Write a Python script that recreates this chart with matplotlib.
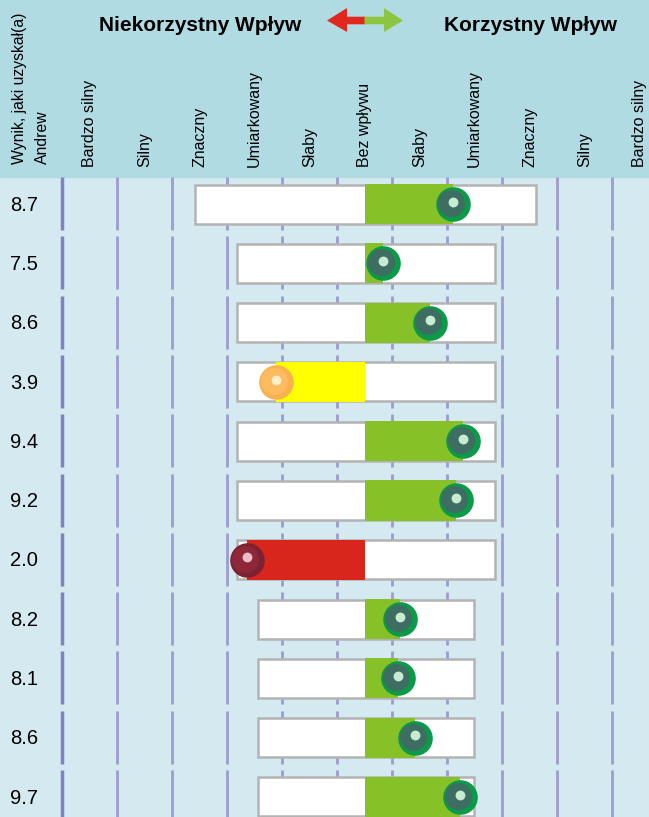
import matplotlib.pyplot as plt
import numpy as np
from matplotlib.patches import Rectangle, Polygon

plt.rcParams["font.family"] = ["Liberation Sans", "DejaVu Sans"]

# Daten
scores = ["8.7", "7.5", "8.6", "3.9", "9.4", "9.2", "2.0", "8.2", "8.1", "8.6", "9.7"]
impact = [1.60, 0.34, 1.19, -1.61, 1.79, 1.66, -2.14, 0.64, 0.60, 0.91, 1.73]
range_lo = [-3.09, -2.32, -2.32, -2.32, -2.32, -2.32, -2.32, -1.94, -1.94, -1.94, -1.94]
range_hi = [3.12, 2.36, 2.36, 2.36, 2.36, 2.36, 2.36, 1.99, 1.99, 1.99, 1.99]
fill_col = ["green", "green", "green", "yellow", "green", "green", "red",
            "green", "green", "green", "green"]
col_labels = ["Bardzo silny", "Silny", "Znaczny", "Umiarkowany", "Słaby", "Bez wpływu",
              "Słaby", "Umiarkowany", "Znaczny", "Silny", "Bardzo silny"]
col_pos = np.arange(-5, 6)

fills = {"green": "#86c128", "yellow": "#ffff00", "red": "#d9261c"}
balls = {"green": ("#0a9a48", "#3e6e62", "#c8ecd2"),
         "yellow": ("#f9b24e", "#fdbb60", "#fff0c8"),
         "red": ("#7c2232", "#8e2838", "#eebcc6")}

W, H = 649, 817
fig = plt.figure(figsize=(W / 100, H / 100), dpi=100)

# Hintergrund + Kopf in Pixelkoordinaten
bg = fig.add_axes([0, 0, 1, 1], zorder=0)
bg.set_xlim(0, W)
bg.set_ylim(H, 0)
bg.axis("off")
bg.add_patch(Rectangle((0, 0), W, H, color="#d5eaf0"))
bg.add_patch(Rectangle((0, 0), W, 176.5, color="#b0dbe3"))

bg.text(200, 25, "Niekorzystny Wpływ", fontsize=15, fontweight="bold", ha="center", va="center")
bg.text(530, 25, "Korzystny Wpływ", fontsize=15, fontweight="bold", ha="center", va="center")
# Doppelpfeil
bg.add_patch(Polygon([(327, 20.5), (347, 8), (347, 16.7), (365, 16.7), (365, 24.3),
                      (347, 24.3), (347, 32)], closed=True, color="#e0281e", lw=0))
bg.add_patch(Polygon([(403, 20.5), (384, 8), (384, 16.7), (364.5, 16.7), (364.5, 24.3),
                      (384, 24.3), (384, 32)], closed=True, color="#8cc63f", lw=0))

bg.text(20, 164, "Wynik, jaki uzyskał(a)", rotation=90, fontsize=11.3, ha="center", va="bottom")
bg.text(42, 164, "Andrew", rotation=90, fontsize=11.3, ha="center", va="bottom")

# Hauptachse: x in Spalten, y in Zeilen
pitch = 59.3
y0 = 204
ax = fig.add_axes([0, 0, 1, 1], zorder=1)
ax.patch.set_alpha(0)
ax.axis("off")
ax.set_xlim((0 - 364.7) / 55, (W - 364.7) / 55)
ax.set_ylim((H - y0) / pitch, -y0 / pitch)

for x, lab in zip(col_pos, col_labels):
    ax.text(x, (167 - y0) / pitch, lab, rotation=90, fontsize=11.5, ha="center", va="bottom")

n = len(scores)
rows = np.arange(n)
for i in rows:
    for k, xl in enumerate(np.arange(-5.5, 5.0, 1.0)):
        ax.plot([xl, xl], [i - 27 / pitch, i + 26 / pitch],
                color="#8282c2" if k == 0 else "#9c9cd2",
                lw=2.5 if k == 0 else 2.0, solid_capstyle="butt", zorder=1)
    ax.text((24 - 364.7) / 55, i + 0.02, scores[i], fontsize=14.5, ha="center", va="center")

bh = 39 / pitch
ax.barh(rows, np.array(range_hi) - np.array(range_lo), left=range_lo, height=bh,
        color="white", edgecolor="#b3b3b3", linewidth=1.8, zorder=2)
ax.barh(rows, impact, left=0, height=bh + 0.02, color=[fills[c] for c in fill_col],
        linewidth=0, zorder=3)

for c in ["green", "yellow", "red"]:
    idx = [i for i in rows if fill_col[i] == c]
    xs = [impact[i] for i in idx]
    outer, inner, hi = balls[c]
    ax.scatter(xs, idx, s=620, color=outer, zorder=4, linewidths=0)
    ax.scatter(np.array(xs) - 0.035, np.array(idx) - 0.02, s=380, color=inner, zorder=5, linewidths=0)
    ax.scatter(xs, np.array(idx) - 0.04, s=50, color=hi, zorder=6, linewidths=0)

fig.savefig("out.png", dpi=100)
